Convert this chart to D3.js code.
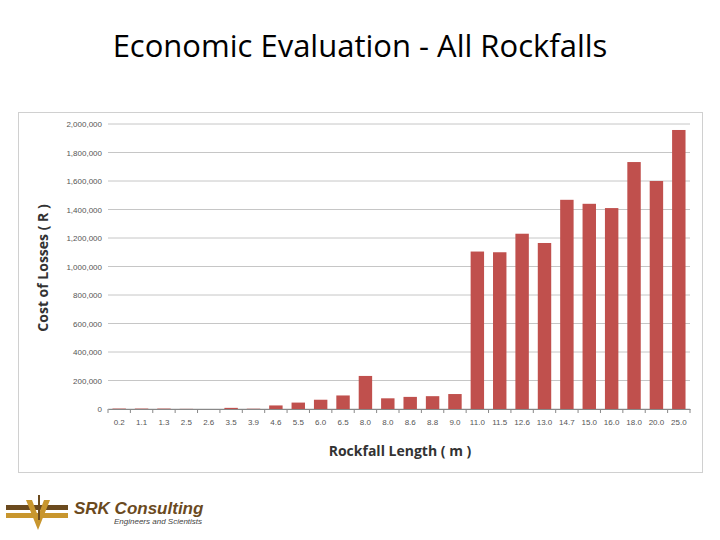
<!DOCTYPE html><html><head><meta charset="utf-8">
<script src="https://d3js.org/d3.v7.min.js"></script>
<style>body{margin:0;background:#fff}svg{display:block}</style></head><body>
<svg id="c" width="720" height="540"></svg>
<script>
const categories=["0.2","1.1","1.3","2.5","2.6","3.5","3.9","4.6","5.5","6.0","6.5","8.0","8.0","8.6","8.8","9.0","11.0","11.5","12.6","13.0","14.7","15.0","16.0","18.0","20.0","25.0"];
const values=[3000,3000,3000,1000,0,8000,2000,25000,45000,65000,95000,232000,75000,85000,90000,105000,1105000,1100000,1230000,1165000,1468000,1440000,1410000,1733000,1600000,1958000];
const yTicks=[0,200000,400000,600000,800000,1000000,1200000,1400000,1600000,1800000,2000000];
const svg=d3.select("#c");
svg.append("text").attr("x",360).attr("y",57).attr("text-anchor","middle").attr("font-family","Open Sans, sans-serif").attr("font-size",31).text("Economic Evaluation - All Rockfalls");
svg.append("rect").attr("x",18.5).attr("y",112.5).attr("width",684).attr("height",360).attr("fill","#fff").attr("stroke","#d0d0d0");
const x=d3.scaleBand().domain(d3.range(categories.length)).range([108,690]).paddingInner(0.4).paddingOuter(0.2);
const y=d3.scaleLinear().domain([0,2000000]).range([409,124]);
const g=svg.append("g");
g.selectAll("line.grid").data(yTicks).join("line").attr("x1",108).attr("x2",690).attr("y1",d=>y(d)).attr("y2",d=>y(d)).attr("stroke","#b8b8b8").attr("stroke-width",0.8);
const ya=svg.append("g").attr("transform","translate(108,0)").call(d3.axisLeft(y).tickValues(yTicks).tickFormat(d3.format(",")).tickSize(0).tickPadding(6));
ya.select(".domain").remove();
ya.selectAll("text").attr("font-family","Liberation Sans, sans-serif").attr("font-size",8).attr("fill","#555");
g.selectAll("rect.bar").data(values).join("rect").attr("x",(d,i)=>x(i)).attr("width",x.bandwidth()).attr("y",d=>y(d)).attr("height",d=>409-y(d)).attr("fill","#c0504d");
const xa=svg.append("g").attr("transform","translate(0,409)").call(d3.axisBottom(x).tickFormat(i=>categories[i]).tickSize(0).tickPadding(10));
xa.select(".domain").attr("stroke","#888");
xa.selectAll("text").attr("font-family","Liberation Sans, sans-serif").attr("font-size",8).attr("fill","#555");
xa.selectAll(".sep").data(d3.range(categories.length+1)).join("line").attr("x1",i=>108+i*582/categories.length).attr("x2",i=>108+i*582/categories.length).attr("y1",0).attr("y2",4).attr("stroke","#888");
svg.append("text").attr("x",400).attr("y",456).attr("text-anchor","middle").attr("font-family","Open Sans, sans-serif").attr("font-weight","bold").attr("font-size",14).attr("fill","#333").text("Rockfall Length (  m )");
svg.append("text").attr("transform","translate(48,268) rotate(-90)").attr("text-anchor","middle").attr("font-family","Open Sans, sans-serif").attr("font-weight","bold").attr("font-size",14).attr("fill","#333").text("Cost of Losses ( R )");
const lg=svg.append("g");
lg.append("rect").attr("x",6).attr("y",505).attr("width",62).attr("height",5).attr("fill","#6b4a1e");
lg.append("rect").attr("x",6).attr("y",513).attr("width",62).attr("height",5).attr("fill","#c8962e");
lg.append("path").attr("d","M26,500 L38,530 L50,500 L44,500 L38,516 L32,500Z").attr("fill","#c8962e");
lg.append("path").attr("d","M38,495 L40,495 L40,520 L38,520Z").attr("fill","#6b4a1e");
lg.append("text").attr("x",74).attr("y",514).attr("font-family","Liberation Sans, sans-serif").attr("font-style","italic").attr("font-weight","bold").attr("font-size",17).attr("fill","#6b4a1e").text("SRK Consulting");
lg.append("text").attr("x",114).attr("y",524).attr("font-family","Liberation Sans, sans-serif").attr("font-style","italic").attr("font-size",8).attr("fill","#444").text("Engineers and Scientists");
</script></body></html>
